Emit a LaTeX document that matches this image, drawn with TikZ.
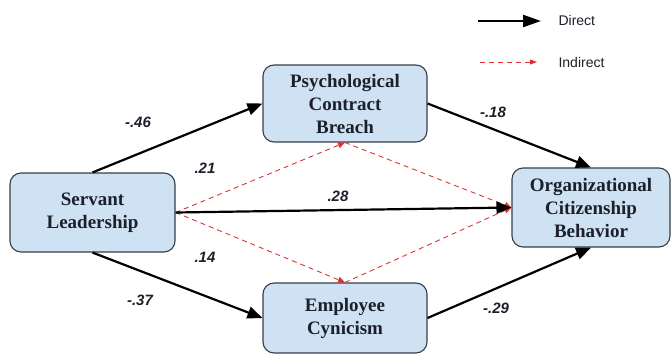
\documentclass[tikz,border=0pt]{standalone}
\usepackage{fontspec}
\setmainfont{Liberation Serif}
\setsansfont{Liberation Sans}
\usetikzlibrary{arrows.meta}
\definecolor{boxfill}{RGB}{207,226,243}
\definecolor{boxline}{RGB}{55,62,72}
\definecolor{txt}{RGB}{28,32,42}
\definecolor{dashred}{RGB}{222,50,50}
\tikzset{
  var/.style={draw=boxline, line width=1.1pt, fill=boxfill, rounded corners=11pt,
    align=center, text=txt, font=\fontsize{19}{23}\selectfont\bfseries,
    inner sep=0pt},
  direct/.style={draw=black, line width=2.2pt, -{Triangle[length=15pt,width=12pt]}},
  indirect/.style={draw=dashred, line width=0.9pt, dash pattern=on 5pt off 4pt,
    -{Triangle[length=7pt,width=6pt]}},
  coef/.style={font=\sffamily\bfseries\itshape\fontsize{15}{17}\selectfont, text=txt},
  legtext/.style={font=\sffamily\fontsize{14}{16}\selectfont, text=txt, anchor=west}
}
\begin{document}
\begin{tikzpicture}[x=1pt,y=-1pt]
\useasboundingbox (0,0) rectangle (671,356);
\node[var, minimum width=165pt, minimum height=79pt] (sl) at (92.5,212.5) {Servant\\Leadership};
\node[var, minimum width=164pt, minimum height=77pt] (pcb) at (345,103.5) {Psychological\\Contract\\Breach};
\node[var, minimum width=158pt, minimum height=79pt] (ocb) at (591,207.5) {Organizational\\Citizenship\\Behavior};
\node[var, minimum width=164pt, minimum height=70pt] (ec) at (345,318) {Employee\\Cynicism};

\draw[indirect] (sl.east) -- (pcb.south);
\draw[indirect] (sl.east) -- (ec.north);
\draw[indirect] (pcb.south) -- (ocb.west);
\draw[indirect] (ec.north) -- (ocb.west);

\draw[direct] (sl.north) -- (pcb.west);
\draw[direct] (sl.south) -- (ec.west);
\draw[direct] (pcb.east) -- (ocb.north);
\draw[direct] (ec.east) -- (ocb.south);
\draw[direct] (sl.east) -- (ocb.west);

\node[coef] (c1) at (138,122) {-.46};
\node[coef] (c2) at (205,168) {.21};
\node[coef] (c3) at (338,196) {.28};
\node[coef] (c4) at (205,257) {.14};
\node[coef] (c5) at (140,300) {-.37};
\node[coef] (c6) at (493,112) {-.18};
\node[coef] (c7) at (496,308) {-.29};

\coordinate (d1) at (478,21);
\coordinate (d2) at (541,21);
\coordinate (i1) at (480,62);
\coordinate (i2) at (537,62);
\draw[direct, -{Triangle[length=18pt,width=12pt]}] (d1) -- (d2);
\draw[indirect, -{Triangle[length=7pt,width=5pt]}] (i1) -- (i2);
\node[legtext] (ld) at (555,20) {Direct};
\node[legtext] (li) at (555,62) {Indirect};
\end{tikzpicture}
\end{document}
